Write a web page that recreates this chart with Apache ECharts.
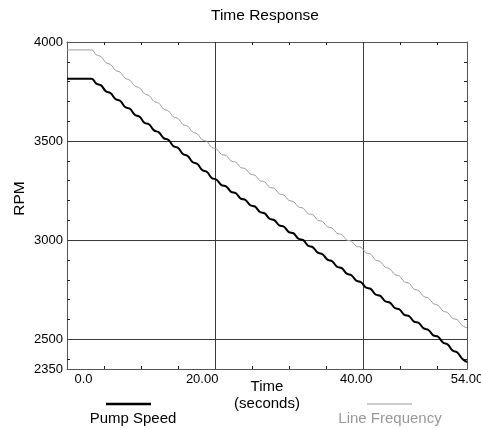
<!DOCTYPE html>
<html><head><meta charset="utf-8">
<script src="https://cdn.jsdelivr.net/npm/echarts@6/dist/echarts.min.js"></script>
<style>html,body{margin:0;padding:0;background:#fff}#c{width:481px;height:429px}</style>
</head><body><div id="c"></div>
<script>
const titleText = 'Time Response';
const xName = 'Time\n(seconds)';
const yName = 'RPM';
const seriesNames = ['Pump Speed', 'Line Frequency'];
const time = [0, 3.30, 3.95, 4.60, 5.25, 5.90, 6.55, 7.20, 7.85, 8.50, 9.15, 9.80, 10.45, 11.10, 11.75, 12.40, 13.05, 13.70, 14.35, 15.00, 15.65, 16.30, 16.95, 17.60, 18.25, 18.90, 19.55, 20.20, 20.85, 21.50, 22.15, 22.80, 23.45, 24.10, 24.75, 25.40, 26.05, 26.70, 27.35, 28.00, 28.65, 29.30, 29.95, 30.60, 31.25, 31.90, 32.55, 33.20, 33.85, 34.50, 35.15, 35.80, 36.45, 37.10, 37.75, 38.40, 39.05, 39.70, 40.35, 41.00, 41.65, 42.30, 42.95, 43.60, 44.25, 44.90, 45.55, 46.20, 46.85, 47.50, 48.15, 48.80, 49.45, 50.10, 50.75, 51.40, 52.05, 52.70, 53.35, 54.00];
const pumpSpeed = [3815, 3815, 3790, 3781, 3751, 3741, 3712, 3702, 3672, 3663, 3633, 3623, 3593, 3584, 3554, 3544, 3515, 3505, 3475, 3465, 3435, 3425, 3394, 3384, 3354, 3344, 3314, 3305, 3278, 3271, 3244, 3237, 3210, 3203, 3176, 3169, 3142, 3135, 3108, 3101, 3075, 3068, 3041, 3034, 3007, 3000, 2972, 2964, 2937, 2929, 2902, 2894, 2866, 2859, 2831, 2823, 2796, 2788, 2761, 2754, 2726, 2719, 2692, 2685, 2658, 2650, 2623, 2616, 2589, 2582, 2555, 2547, 2520, 2513, 2484, 2474, 2443, 2433, 2402, 2385];
const lineFrequency = [3960, 3960, 3935, 3926, 3896, 3886, 3857, 3847, 3817, 3807, 3778, 3768, 3739, 3729, 3700, 3691, 3661, 3652, 3623, 3614, 3584, 3575, 3546, 3536, 3507, 3498, 3468, 3460, 3433, 3427, 3400, 3393, 3367, 3360, 3334, 3327, 3300, 3294, 3267, 3261, 3234, 3227, 3201, 3194, 3168, 3161, 3134, 3128, 3101, 3094, 3068, 3061, 3035, 3028, 3001, 2995, 2970, 2964, 2937, 2929, 2900, 2892, 2864, 2855, 2827, 2818, 2790, 2782, 2753, 2745, 2716, 2708, 2680, 2671, 2643, 2634, 2606, 2598, 2569, 2558];
const xTickValues = [0, 20, 40, 54];
const xTickLabels = ['0.0', '20.00', '40.00', '54.00'];
const yTickValues = [2350, 2500, 3000, 3500, 4000];
const yTickLabels = ['2350', '2500', '3000', '3500', '4000'];
const xMinorTicks = [5, 10, 15, 25, 30, 35, 45, 50];
const yMinorTicks = [2400, 2500, 2600, 2700, 2800, 2900, 3000, 3100, 3200, 3300, 3400, 3500, 3600, 3700, 3800, 3900];
const xGrid = [20, 40];
const yGrid = [2500, 3000, 3500];

const FONT = '"Liberation Sans", Arial, sans-serif';
const frame = '#555';
const gridCol = '#3a3a3a';
const black = '#000';
const gray = '#999';

const labelShift = [[0, 0, 0, 33], [0, 26, 0, 0], [0, 14, 0, 0], [0, 0, 0, 0]];
const rich = {};
labelShift.forEach((p, i) => { rich['s' + i] = { padding: p, fontSize: 13, fontFamily: FONT, color: '#000' }; });

const chart = echarts.init(document.getElementById('c'), null, { renderer: 'canvas' });
const xCommon = { type: 'value', min: 0, max: 54, splitLine: { show: false },
  axisLine: { show: true, onZero: false, lineStyle: { color: frame, width: 1 } },
  axisTick: { show: true, inside: true, length: 3, customValues: xMinorTicks, lineStyle: { color: '#222' } } };
const yCommon = { type: 'value', min: 2350, max: 4000, splitLine: { show: false },
  axisLine: { show: true, onZero: false, lineStyle: { color: frame, width: 1 } },
  axisTick: { show: true, inside: true, length: 3, customValues: yMinorTicks, lineStyle: { color: '#222' } } };

chart.setOption({
  animation: false,
  backgroundColor: '#fff',
  title: { text: titleText, left: 211, top: 8, padding: 0,
    textStyle: { fontFamily: FONT, fontSize: 15.5, fontWeight: 'normal', color: '#000' } },
  grid: { left: 67, top: 42, width: 400, height: 327, containLabel: false, outerBoundsMode: 'none' },
  xAxis: [
    Object.assign({}, xCommon, { position: 'bottom',
      name: xName, nameLocation: 'middle', nameGap: 9, nameMoveOverlap: false,
      nameTextStyle: { fontFamily: FONT, fontSize: 15, color: '#000', lineHeight: 17, verticalAlign: 'top' },
      axisLabel: { show: true, margin: 4, customValues: xTickValues, fontFamily: FONT, fontSize: 13, color: '#000',
        formatter: v => { const i = xTickValues.indexOf(v); return '{s' + i + '|' + xTickLabels[i] + '}'; }, rich: rich } }),
    Object.assign({}, xCommon, { position: 'top', axisLabel: { show: false } })
  ],
  yAxis: [
    Object.assign({}, yCommon, { position: 'left',
      name: yName, nameLocation: 'middle', nameGap: 39, nameRotate: 90, nameMoveOverlap: false,
      nameTextStyle: { fontFamily: FONT, fontSize: 15.5, color: '#000', padding: [0, 0, 0, 14] },
      axisLabel: { show: true, margin: 4, customValues: yTickValues, fontFamily: FONT, fontSize: 13, color: '#000',
        formatter: v => yTickLabels[yTickValues.indexOf(v)] } }),
    Object.assign({}, yCommon, { position: 'right', axisLabel: { show: false } })
  ],
  series: [
    { name: seriesNames[1], type: 'line', xAxisIndex: 0, yAxisIndex: 0, showSymbol: false, smooth: 0.4,
      data: time.map((t, i) => [t, lineFrequency[i]]),
      lineStyle: { color: gray, width: 1 }, z: 3,
      markLine: { silent: true, symbol: 'none', label: { show: false }, z: 1,
        lineStyle: { color: gridCol, width: 1, type: 'solid' },
        data: xGrid.map(v => ({ xAxis: v })).concat(yGrid.map(v => ({ yAxis: v }))) } },
    { name: seriesNames[0], type: 'line', xAxisIndex: 0, yAxisIndex: 0, showSymbol: false, smooth: 0.4,
      data: time.map((t, i) => [t, pumpSpeed[i]]),
      lineStyle: { color: black, width: 2 }, z: 4 }
  ],
  graphic: [
    { type: 'line', shape: { x1: 106, y1: 404, x2: 151, y2: 404 }, style: { stroke: black, lineWidth: 2.5 } },
    { type: 'text', x: 133, y: 419, style: { text: seriesNames[0], fill: '#000', font: '15px ' + FONT, textAlign: 'center', textVerticalAlign: 'middle' } },
    { type: 'line', shape: { x1: 367, y1: 404, x2: 412, y2: 404 }, style: { stroke: gray, lineWidth: 1 } },
    { type: 'text', x: 390, y: 419, style: { text: seriesNames[1], fill: gray, font: '15px ' + FONT, textAlign: 'center', textVerticalAlign: 'middle' } }
  ]
});
</script></body></html>
